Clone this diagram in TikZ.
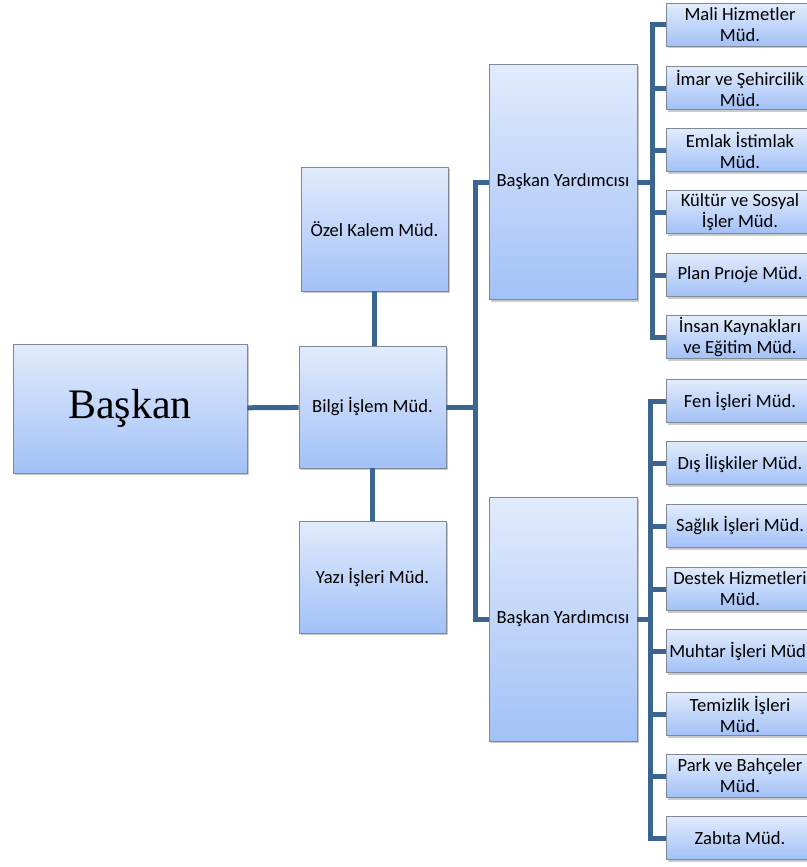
\documentclass[tikz,border=0pt]{standalone}
\usepackage{fontspec}
\setmainfont{Carlito}
\newfontfamily\titlefont{Liberation Serif}
\usetikzlibrary{shadows}
\definecolor{linkblue}{RGB}{59,101,145}
\definecolor{boxtop}{RGB}{225,235,252}
\definecolor{boxbottom}{RGB}{162,193,247}
\definecolor{boxedge}{RGB}{128,136,148}

\tikzset{
  unitbox/.style={draw=boxedge, line width=0.9pt, top color=boxtop, bottom color=boxbottom,
    align=center, inner sep=1pt, font=\fontsize{18.6}{21}\selectfont,
    drop shadow={shadow xshift=1.5pt, shadow yshift=-2pt, opacity=0.35, fill=black!60}},
  subbox/.style={unitbox, minimum width=148pt, minimum height=43pt},
  link/.style={draw=linkblue, line width=5pt}
}

\begin{document}
\begin{tikzpicture}[x=1pt,y=1pt,yscale=-1]
\useasboundingbox (0,0) rectangle (806,867);

%Main units
\node [unitbox, minimum width=234pt, minimum height=129pt, font=\titlefont\fontsize{42}{46}\selectfont] (baskan) at (130,408.5) {Başkan};
\node [unitbox, minimum width=147pt, minimum height=124pt] (ozel) at (374.5,229) {Özel Kalem Müd.};
\node [unitbox, minimum width=147pt, minimum height=122pt] (bilgi) at (372.5,407) {Bilgi İşlem Müd.};
\node [unitbox, minimum width=147pt, minimum height=112pt] (yazi) at (372.5,577) {Yazı İşleri Müd.};
\node [unitbox, minimum width=148pt, minimum height=235pt] (byA) at (563,182) {Başkan Yardımcısı};
\node [unitbox, minimum width=148pt, minimum height=244pt] (byB) at (563,619) {Başkan Yardımcısı};

%First group
\node [subbox] (a1) at (740,25) {Mali Hizmetler\\Müd.};
\node [subbox] (a2) at (740,88) {İmar ve Şehircilik\\Müd.};
\node [subbox] (a3) at (740,150) {Emlak İstimlak\\Müd.};
\node [subbox] (a4) at (740,212) {Kültür ve Sosyal\\İşler Müd.};
\node [subbox] (a5) at (740,275) {Plan Prıoje Müd.};
\node [subbox] (a6) at (740,337) {İnsan Kaynakları\\ve Eğitim Müd.};

%Second group
\node [subbox] (b1) at (740,401) {Fen İşleri Müd.};
\node [subbox] (b2) at (740,463) {Dış İlişkiler Müd.};
\node [subbox] (b3) at (740,526) {Sağlık İşleri Müd.};
\node [subbox] (b4) at (740,589) {Destek Hizmetleri\\Müd.};
\node [subbox] (b5) at (740,651) {Muhtar İşleri Müd.};
\node [subbox] (b6) at (740,714) {Temizlik İşleri\\Müd.};
\node [subbox] (b7) at (740,776) {Park ve Bahçeler\\Müd.};
\node [subbox] (b8) at (740,838) {Zabıta Müd.};

%Connectors
\draw [link] (baskan) -- (bilgi);
\draw [link] (ozel.south) -- (ozel.south |- bilgi.north);
\draw [link] (bilgi.south) -- (yazi.north);
\draw [link] (bilgi.east) -- ++(29,0) coordinate (trunk);
\draw [link] (trunk) |- (byA.west);
\draw [link] (trunk) |- (byB.west);
\foreach \i in {1,...,6}
  \draw [link] (byA.east) -- ++(15,0) |- (a\i.west);
\foreach \i in {1,...,8}
  \draw [link] (byB.east) -- ++(13,0) |- (b\i.west);

\end{tikzpicture}
\end{document}
